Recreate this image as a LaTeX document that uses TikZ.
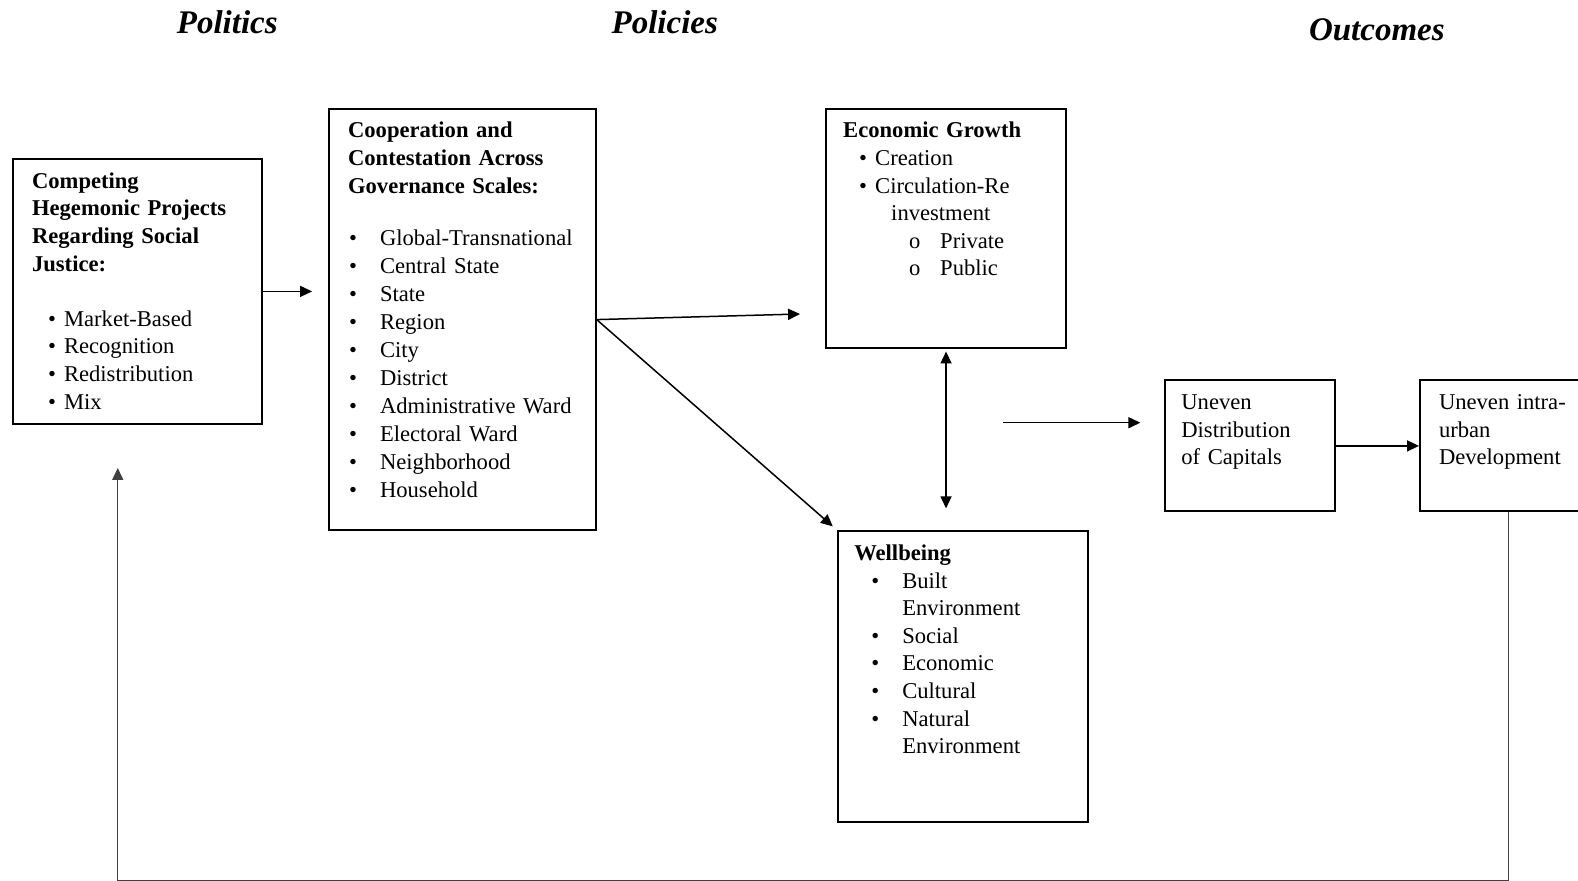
\documentclass[tikz,border=0pt]{standalone}
\usepackage{fontspec}
\setmainfont{Liberation Serif}
\usepackage{tikz}
\usetikzlibrary{positioning, arrows.meta}
\newcommand{\bul}[2]{\hspace*{#1}\makebox[#2][l]{\textbullet}}
\tikzset{frame/.style n args={3}{draw, line width=1pt, anchor=north west, inner ysep=0pt, inner xsep=#1,
    text width=#2, text height=14.6pt, text depth=#3, align=left, font=\fontsize{11.3}{13.8}\selectfont}}
\tikzset{head/.style={anchor=base west, inner sep=0pt, font=\fontsize{16.5}{20}\selectfont\bfseries\itshape}}
\tikzset{every picture/.style={line width=0.75pt}}

\begin{document}
\begin{tikzpicture}[x=0.50319pt,y=-0.50319pt,>={Triangle[length=6pt,width=5.5pt]}]
  \useasboundingbox (0,0) rectangle (1568,875.4);

  \node [head] (politics) at (175,33) {Politics};
  \node [head] (policies) at (607,33) {Policies};
  \node [head] (outcomes) at (1300,40) {Outcomes};

  \node [frame={9.5pt}{105.3pt}{117.8pt}] (proj) at (12,157)
    {\textbf{Competing\\ Hegemonic Projects\\ Regarding Social\\ Justice:}\\[13.8pt]
     \bul{8pt}{8pt}Market-Based\\ \bul{8pt}{8pt}Recognition\\
     \bul{8pt}{8pt}Redistribution\\ \bul{8pt}{8pt}Mix};

  \node [frame={9.5pt}{114.3pt}{196.3pt}, font=\fontsize{11.3}{14}\selectfont] (scales) at (326,107)
    {\textbf{Cooperation and\\ Contestation Across\\ Governance Scales:}\\[12pt]
     \bul{0.5pt}{15.5pt}Global-Transnational\\ \bul{0.5pt}{15.5pt}Central State\\
     \bul{0.5pt}{15.5pt}State\\ \bul{0.5pt}{15.5pt}Region\\
     \bul{0.5pt}{15.5pt}City\\ \bul{0.5pt}{15.5pt}District\\
     \bul{0.5pt}{15.5pt}Administrative Ward\\ \bul{0.5pt}{15.5pt}Electoral Ward\\
     \bul{0.5pt}{15.5pt}Neighborhood\\ \bul{0.5pt}{15.5pt}Household};

  \node [frame={8.5pt}{102.8pt}{105.3pt}] (growth) at (820,107)
    {\textbf{Economic Growth}\\
     \bul{8pt}{8pt}Creation\\ \bul{8pt}{8pt}Circulation-Re\\
     \hspace*{24pt}investment\\
     \hspace*{33pt}\makebox[15.5pt][l]{o}Private\\
     \hspace*{33pt}\makebox[15.5pt][l]{o}Public};

  \node [frame={8pt}{108.8pt}{130.9pt}] (well) at (832,527)
    {\textbf{Wellbeing}\\
     \bul{8.5pt}{15.5pt}Built\\ \hspace*{24pt}Environment\\
     \bul{8.5pt}{15.5pt}Social\\ \bul{8.5pt}{15.5pt}Economic\\
     \bul{8.5pt}{15.5pt}Cultural\\ \bul{8.5pt}{15.5pt}Natural\\
     \hspace*{24pt}Environment};

  \node [frame={8pt}{69pt}{50.9pt}] (capitals) at (1157,377)
    {Uneven\\ Distribution\\ of Capitals};
  \node [frame={9.5pt}{69.6pt}{50.9pt}] (intra) at (1410,377)
    {Uneven intra-\\ urban\\ Development};

  \coordinate (bc) at (795,312);
  \coordinate (free) at (997,420);
  \coordinate (back) at (117,465);

  \draw [->, shorten >=8pt] (proj.east) -- (proj.east -| scales.west);
  \draw [->] (scales.east) -- (bc);
  \draw [->, shorten >=3pt] (scales.east) -- (well.north west);
  \draw [<->, shorten <=1pt, shorten >=11pt] (growth.south) -- (growth.south |- well.north);
  \draw [->, shorten >=12pt] (free) -- (free -| capitals.west);
  \draw [->] (capitals.east) -- (intra.west);
  \draw [->, draw=black!75] (intra.south) -- (intra.south |- 0,875.4) -| (back);
\end{tikzpicture}
\end{document}
